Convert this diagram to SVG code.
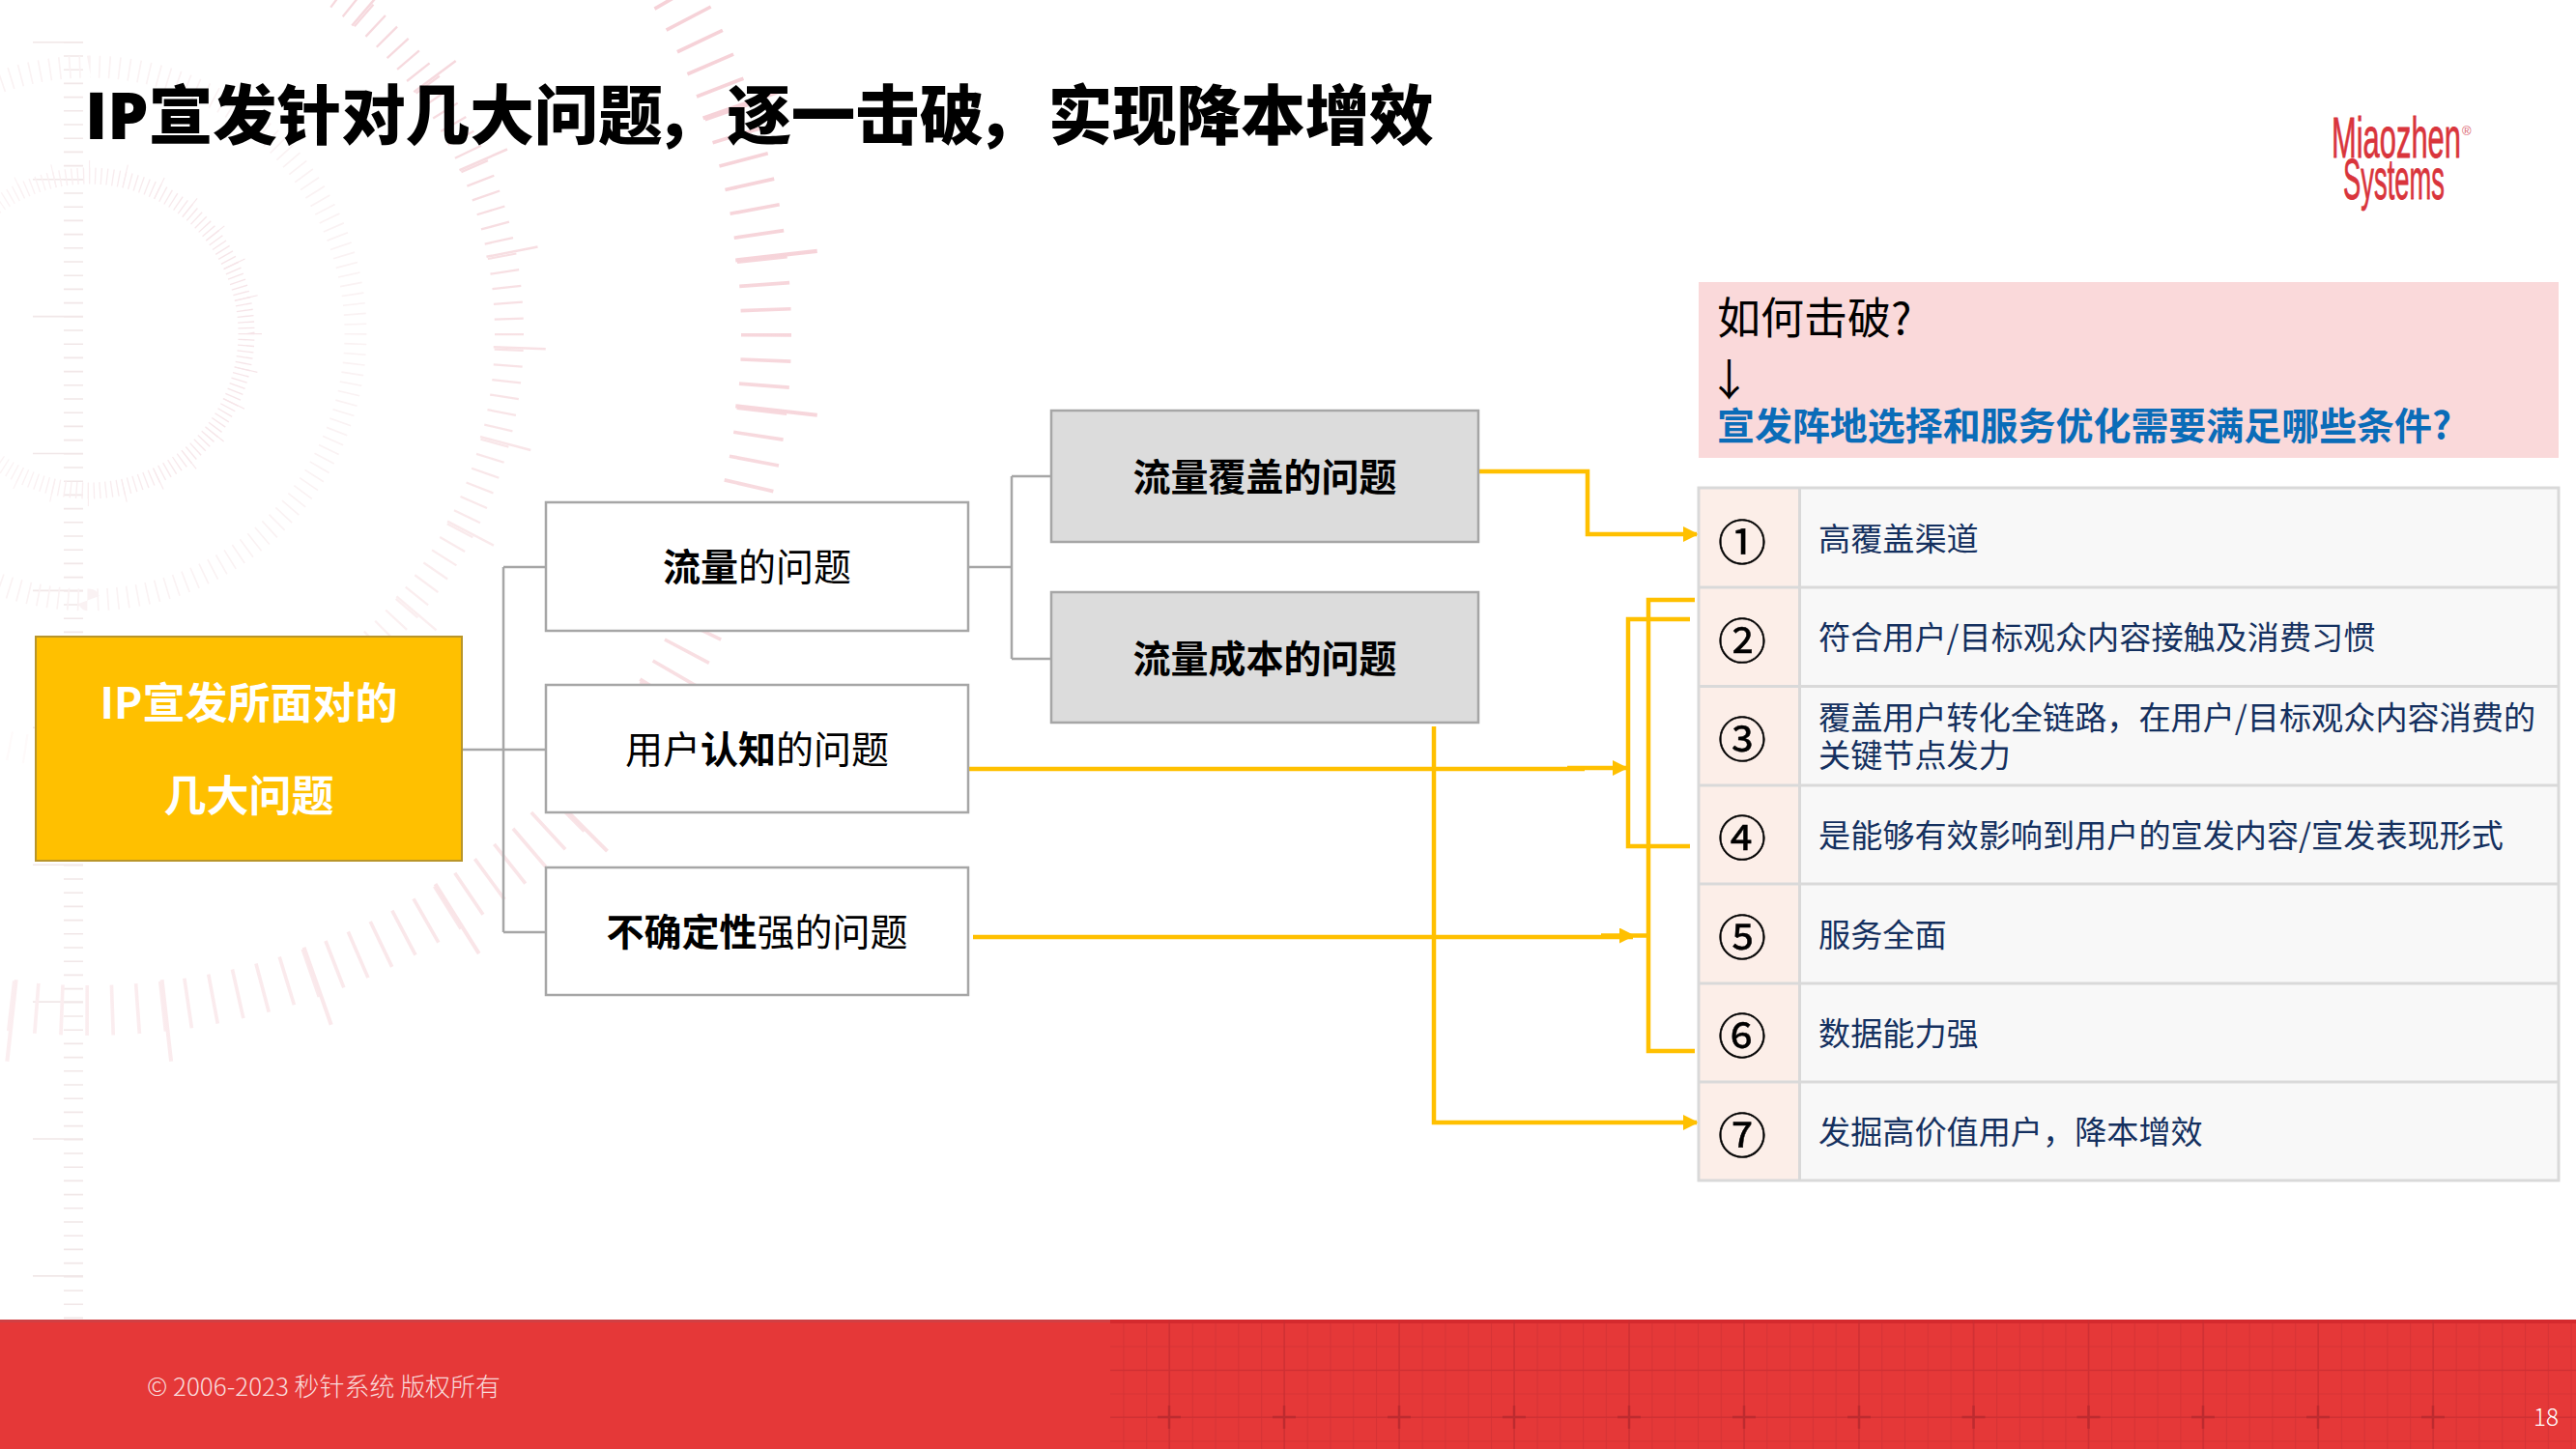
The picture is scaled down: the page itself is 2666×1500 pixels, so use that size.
<svg xmlns="http://www.w3.org/2000/svg" width="2666" height="1500" viewBox="0 0 2666 1500">
<style>
text{font-family:"Noto Sans CJK SC","Noto Sans",sans-serif;}
.box{fill:#fff;stroke:#a6a6a6;stroke-width:2.5;}
.grey{fill:#dcdcdc;stroke:#a6a6a6;stroke-width:2.5;}
.lbl{font-size:39px;fill:#000;text-anchor:middle;}
.b{font-weight:700;}
.rootT{font-size:44px;font-weight:700;fill:#fff;text-anchor:middle;}
.item{font-size:33.15px;fill:#14305f;}
.num{font-size:50px;fill:#000;text-anchor:middle;stroke:#000;stroke-width:0.5;}
.gc{fill:none;stroke:#a6a6a6;stroke-width:2.5;}
.yc{fill:none;stroke:#ffc000;stroke-width:4.5;}
.tl{stroke:#d9d9d9;stroke-width:3;fill:none;}
.ring{fill:none;}
</style>
<defs>
<marker id="arr" viewBox="0 0 16 16" refX="14" refY="8" markerWidth="16" markerHeight="16" markerUnits="userSpaceOnUse" orient="auto"><path d="M0 0L16 8L0 16Z" fill="#ffc000"/></marker>
<linearGradient id="fade" gradientUnits="userSpaceOnUse" x1="800" y1="100" x2="100" y2="1100"><stop offset="0" stop-color="#f6d2d8"/><stop offset="0.55" stop-color="#f9e2e5"/><stop offset="1" stop-color="#fbeef0"/></linearGradient>
<linearGradient id="fade3" gradientUnits="userSpaceOnUse" x1="560" y1="100" x2="200" y2="800"><stop offset="0" stop-color="#f6d8dd"/><stop offset="0.5" stop-color="#f9e8ea"/><stop offset="1" stop-color="#fefafa"/></linearGradient>
<linearGradient id="fade1" gradientUnits="userSpaceOnUse" x1="300" y1="300" x2="-80" y2="300"><stop offset="0" stop-color="#f5e2e6"/><stop offset="0.6" stop-color="#f9eef0"/><stop offset="1" stop-color="#fdf8f8"/></linearGradient>
<pattern id="grid" x="1210" y="1467" width="23.78" height="24.5" patternUnits="userSpaceOnUse"><path d="M0.5 0V24.5M0 0.5H23.78" fill="none" stroke="#c92f33" stroke-width="1.2" stroke-opacity="0.55"/></pattern>
</defs>
<rect width="2666" height="1500" fill="#fff"/>
<g id="background">
<line x1="76" y1="43" x2="76" y2="1366" stroke="#f1e7e8" stroke-width="20" stroke-dasharray="1.6 12.6"/>
<line x1="60" y1="43" x2="60" y2="1366" stroke="#f1e7e8" stroke-width="52" stroke-dasharray="1.6 140.3"/>
<circle class="ring" cx="92" cy="345" r="701" stroke="url(#fade)" stroke-width="52" pathLength="168" stroke-dasharray="0.14 0.86"/>
<circle class="ring" cx="92" cy="345" r="716" stroke="url(#fade)" stroke-width="85" pathLength="28" stroke-dasharray="0.025 0.975" transform="rotate(6.25 92 345)"/>
<circle class="ring" cx="92" cy="345" r="435" stroke="url(#fade3)" stroke-width="30" pathLength="168" stroke-dasharray="0.14 0.86"/>
<circle class="ring" cx="92" cy="345" r="446" stroke="url(#fade3)" stroke-width="54" pathLength="28" stroke-dasharray="0.025 0.975" transform="rotate(1.8 92 345)"/>
<circle class="ring" cx="92" cy="345" r="276" stroke="#faf2f3" stroke-width="23" pathLength="168" stroke-dasharray="0.16 0.84"/>
<circle class="ring" cx="92" cy="345" r="163" stroke="url(#fade1)" stroke-width="17" pathLength="168" stroke-dasharray="0.22 0.78"/>
<circle class="ring" cx="92" cy="345" r="167" stroke="url(#fade1)" stroke-width="24" pathLength="28" stroke-dasharray="0.03 0.97"/>
</g>
<g id="footer">
<rect x="0" y="1366" width="2666" height="134" fill="#e53838"/>
<rect x="0" y="1366" width="1149" height="3" fill="#d04044"/>
<rect x="1149" y="1366" width="1517" height="134" fill="url(#grid)"/>
<rect x="1149" y="1366" width="1517" height="4" fill="#d42a2e"/>
<path d="M1210 1366V1500M1329 1366V1500M1448 1366V1500M1567 1366V1500M1686 1366V1500M1805 1366V1500M1924 1366V1500M2042.500 1366V1500M2161.500 1366V1500M2280 1366V1500M2399 1366V1500M2518 1366V1500M1149 1418.500H2666M1149 1467H2666" stroke="#c92f33" stroke-width="1.6" stroke-opacity="0.6" fill="none"/>
<path d="M1198 1467h24M1210 1455v24M1317 1467h24M1329 1455v24M1436 1467h24M1448 1455v24M1555 1467h24M1567 1455v24M1674 1467h24M1686 1455v24M1793 1467h24M1805 1455v24M1912 1467h24M1924 1455v24M2030.500 1467h24M2042.500 1455v24M2149.500 1467h24M2161.500 1455v24M2268 1467h24M2280 1455v24M2387 1467h24M2399 1455v24M2506 1467h24M2518 1455v24" stroke="#bd2b2f" stroke-width="2.4" fill="none"/>
<text x="152" y="1445" font-size="26" font-weight="300" fill="#f9dcdc" textLength="366" lengthAdjust="spacingAndGlyphs">© 2006-2023 秒针系统 版权所有</text>
<text x="2622" y="1476" font-size="25" font-weight="300" fill="#fff" textLength="26" lengthAdjust="spacingAndGlyphs">18</text>
</g>
<g id="title"><text x="88" y="144" font-size="66.5" font-weight="900" fill="#000"><tspan style="font-family:'Open Sans','Noto Sans',sans-serif" font-weight="800" font-size="67">IP</tspan>宣发针对几大问题<tspan dx="-8">，</tspan><tspan dx="8">逐一击破</tspan><tspan dx="-8">，</tspan><tspan dx="8">实现降本增效</tspan></text></g>
<g id="logo" fill="#d9353c" stroke="#d9353c" stroke-width="0.8">
<text x="2413" y="163" font-size="60" textLength="134" lengthAdjust="spacingAndGlyphs" style="font-family:'Liberation Sans Narrow','Liberation Sans',sans-serif">Miaozhen</text>
<text x="2548" y="140" font-size="13" fill="#d9606a" stroke="none" style="font-family:'Liberation Sans',sans-serif">®</text>
<text x="2425" y="206" font-size="60" textLength="105" lengthAdjust="spacingAndGlyphs" style="font-family:'Liberation Sans Narrow','Liberation Sans',sans-serif">Systems</text>
</g>
<g id="connectors">
<path class="gc" d="M478 776H565M521 587V965M521 587H565M521 965H565"/>
<path class="gc" d="M1002 587H1047M1047 493V682M1047 493H1088M1047 682H1088"/>
<path class="yc" d="M1530 488H1643V553H1756" marker-end="url(#arr)"/>
<path class="yc" d="M1484 752V1162H1756" marker-end="url(#arr)"/>
<path class="yc" d="M1002 796H1640"/>
<path class="yc" d="M1622 795H1683" marker-end="url(#arr)"/>
<path class="yc" d="M1007 970H1690"/>
<path class="yc" d="M1657 968.500H1690" marker-end="url(#arr)"/>
<path class="yc" d="M1690 968.500H1706"/>
<path class="yc" d="M1749 641H1685V876H1749"/>
<path class="yc" d="M1754 621H1706V1088H1754"/>
</g>
<g id="root"><rect x="37" y="659" width="441" height="232" fill="#ffc000" stroke="#b8952a" stroke-width="2"/>
<text class="rootT" x="257.500" y="744">IP宣发所面对的</text><text class="rootT" x="257.500" y="840">几大问题</text></g>
<g id="n-traffic"><rect class="box" x="565" y="520" width="437" height="133"/><text class="lbl" x="783.500" y="601"><tspan class="b">流量</tspan>的问题</text></g>
<g id="n-cognition"><rect class="box" x="565" y="709" width="437" height="132"/><text class="lbl" x="783.500" y="790">用户<tspan class="b">认知</tspan>的问题</text></g>
<g id="n-uncertainty"><rect class="box" x="565" y="898" width="437" height="132"/><text class="lbl" x="783.500" y="979"><tspan class="b">不确定性</tspan>强的问题</text></g>
<g id="n-coverage"><rect class="grey" x="1088" y="425" width="442" height="136"/><text class="lbl b" x="1309" y="507.500">流量覆盖的问题</text></g>
<g id="n-cost"><rect class="grey" x="1088" y="613" width="442" height="135"/><text class="lbl b" x="1309" y="696">流量成本的问题</text></g>
<g id="n-header"><rect x="1758" y="292" width="890" height="182" fill="#fad9da"/>
<text x="1777" y="346" font-size="45" fill="#000">如何击破?</text>
<text x="1767" y="410" font-size="45" fill="#000">↓</text>
<text x="1777" y="455" font-size="39" font-weight="700" fill="#0a6cb8" textLength="760" lengthAdjust="spacingAndGlyphs">宣发阵地选择和服务优化需要满足哪些条件?</text></g>
<g id="table">
<rect x="1758" y="505" width="890" height="717" fill="#f8f8f8"/>
<rect x="1758" y="505" width="104.500" height="717" fill="#fceee8"/>
<path class="tl" d="M1758 505H2648V1222H1758ZM1862.500 505V1222M1758 608H2648M1758 710.500H2648M1758 813H2648M1758 915H2648M1758 1018H2648M1758 1120H2648"/>
</g>
<g id="row1"><text class="num" x="1803" y="580">①</text><text class="item" x="1882" y="570">高覆盖渠道</text></g>
<g id="row2"><text class="num" x="1803" y="682">②</text><text class="item" x="1882" y="672">符合用户/目标观众内容接触及消费习惯</text></g>
<g id="row3"><text class="num" x="1803" y="784">③</text><text class="item" x="1882" y="755">覆盖用户转化全链路，在用户/目标观众内容消费的</text><text class="item" x="1882" y="794">关键节点发力</text></g>
<g id="row4"><text class="num" x="1803" y="886">④</text><text class="item" x="1882" y="877">是能够有效影响到用户的宣发内容/宣发表现形式</text></g>
<g id="row5"><text class="num" x="1803" y="989">⑤</text><text class="item" x="1882" y="980">服务全面</text></g>
<g id="row6"><text class="num" x="1803" y="1091">⑥</text><text class="item" x="1882" y="1082">数据能力强</text></g>
<g id="row7"><text class="num" x="1803" y="1194">⑦</text><text class="item" x="1882" y="1184">发掘高价值用户，降本增效</text></g>
</svg>
